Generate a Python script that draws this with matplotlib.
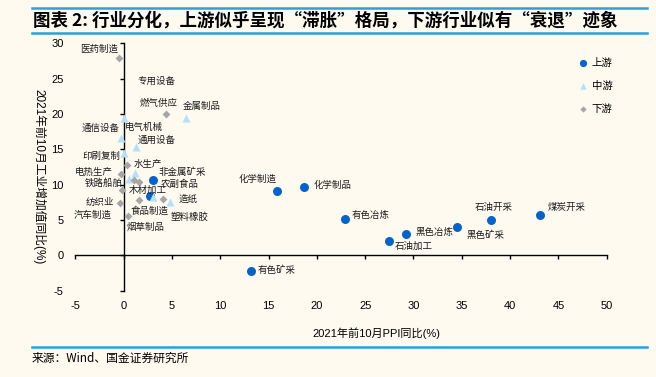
#!/usr/bin/env python3
# -*- coding: utf-8 -*-
# Scatter: PPI vs industrial value added, Jan-Oct 2021, by industry group

import matplotlib
matplotlib.use("Agg")
import matplotlib.pyplot as plt
from matplotlib.lines import Line2D

# Upstream industries (blue circles)
up_names = ['化学制造', '化学制品', '有色冶炼', '石油加工', '黑色冶炼', '黑色矿采',
            '石油开采', '煤炭开采', '有色矿采', '非金属矿采', '农副食品']
up_ppi = [15.9, 18.7, 22.9, 27.5, 29.2, 34.5, 38.0, 43.1, 13.2, 3.1, 2.7]
up_iva = [9.1, 9.7, 5.2, 2.1, 3.0, 4.0, 5.0, 5.7, -2.2, 10.6, 8.4]

# Midstream (light blue triangles)
mid_names = ['电气机械', '通信设备', '通用设备', '专用设备', '金属制品', '铁路船舶',
             '塑料橡胶', '水生产', '']
mid_ppi = [0.0, -0.3, 1.3, 0.1, 6.5, 0.6, 4.8, 1.2, 3.0]
mid_iva = [19.5, 16.6, 15.3, 14.5, 19.4, 10.8, 7.6, 11.6, 8.2]

# Downstream (grey diamonds)
down_names = ['医药制造', '燃气供应', '印刷复制', '电热生产', '', '木材加工', '汽车制造',
              '食品制造', '造纸', '纺织业', '烟草制品']
down_ppi = [-0.5, 4.4, 0.4, -0.3, 1.05, 1.6, -0.2, 1.6, 4.1, -0.35, 0.45]
down_iva = [27.9, 20.0, 12.8, 11.5, 10.7, 10.4, 9.2, 7.9, 8.0, 7.4, 5.5]

xticks = list(range(-5, 55, 5))
yticks = list(range(-5, 35, 5))

# label placement, pixels right / down from the marker
label_offsets = {
    '化学制造': (-20, -12), '化学制品': (28, -1), '有色冶炼': (26, -3),
    '石油加工': (24, 6), '黑色冶炼': (29, -2), '黑色矿采': (29, 8),
    '石油开采': (3, -13), '煤炭开采': (27, -8), '有色矿采': (25, -1),
    '非金属矿采': (29, -8), '农副食品': (30, -12),
    '电气机械': (20, 10), '通信设备': (-20, -10), '通用设备': (21, -7),
    '专用设备': (32, -72), '金属制品': (15, -12), '铁路船舶': (-26, 4),
    '塑料橡胶': (20, 15), '水生产': (13, -9),
    '医药制造': (-20, -9), '燃气供应': (-7, -11), '印刷复制': (-26, -8),
    '电热生产': (-27, -2), '木材加工': (9, 8), '汽车制造': (-29, 25),
    '食品制造': (11, 12), '造纸': (25, 0), '纺织业': (-20, -1),
    '烟草制品': (18, 11),
}

BG = '#FEFAF0'
LINE_BLUE = '#2AA0DE'
CJK = ['Noto Sans CJK SC', 'DejaVu Sans']
NUM = ['Liberation Sans Narrow', 'Liberation Sans', 'Noto Sans CJK SC']

fig = plt.figure(figsize=(6.56, 3.77), dpi=100, facecolor=BG)
ax = fig.add_axes([75.2 / 656, 1 - 290.7 / 377, 531.6 / 656, 247.4 / 377])
ax.set_facecolor(BG)

h_up = ax.scatter(up_ppi, up_iva, s=42, marker='o', color='#0563C8', linewidths=0, zorder=3)
h_mid = ax.scatter(mid_ppi, mid_iva, s=34, marker='^', color='#B9DFF6', linewidths=0, zorder=3)
h_down = ax.scatter(down_ppi, down_iva, s=16, marker='D', color='#A6A6A6', linewidths=0, zorder=3)

for names, xs, ys in [(up_names, up_ppi, up_iva), (mid_names, mid_ppi, mid_iva),
                      (down_names, down_ppi, down_iva)]:
    for n, x, y in zip(names, xs, ys):
        if n not in label_offsets:
            continue
        dx, dy = label_offsets[n]
        ax.annotate(n, (x, y), xytext=(dx, -dy), textcoords='offset pixels',
                    ha='center', va='center', fontsize=6.8, family=CJK, color='#1a1a1a')

ax.set_xlim(-5, 50)
ax.set_ylim(-5, 30)
ax.spines['top'].set_visible(False)
ax.spines['right'].set_visible(False)
ax.spines['left'].set_position(('data', 0))
ax.spines['bottom'].set_position(('data', 0))
for sp in ('left', 'bottom'):
    ax.spines[sp].set_linewidth(1.0)
    ax.spines[sp].set_color('black')
ax.set_xticks(xticks)
ax.set_yticks(yticks)
ax.set_xticklabels([str(v) for v in xticks], family=NUM, fontsize=8)
ax.set_yticklabels([str(v) for v in yticks], family=NUM, fontsize=8)
# labels sit at the low edge of the plot, not on the zero lines
ax.tick_params(axis='x', direction='out', length=3, width=1, pad=30)
ax.tick_params(axis='y', direction='out', length=3, width=1, pad=40)

leg = ax.legend([h_up, h_mid, h_down], ['上游', '中游', '下游'], loc='upper left',
                bbox_to_anchor=(578 / 656, 1 - 58 / 377), bbox_transform=fig.transFigure,
                frameon=False, prop={'family': CJK, 'size': 7.5}, handlelength=1.0,
                handletextpad=0.3, labelspacing=1.25, borderpad=0, borderaxespad=0,
                scatterpoints=1, markerscale=0.8)

fig.text(376 / 656, 1 - 333 / 377, '2021年前10月PPI同比(%)', ha='center', va='center',
         fontsize=8, family=NUM)
fig.text(39 / 656, 1 - 177 / 377, '2021年前10月工业增加值同比(%)', ha='center', va='center',
         rotation=-90, fontsize=8.5, family=NUM)

# header / footer
fig.text(33 / 656, 1 - 21 / 377,
         '图表 2: 行业分化，上游似乎呈现“滞胀”格局，下游行业似有“衰退”迹象',
         ha='left', va='center', fontsize=12.6, fontweight='bold', family=CJK)
for ypx in (8, 33, 347):
    fig.add_artist(Line2D([32 / 656, 647 / 656], [1 - ypx / 377] * 2,
                          color=LINE_BLUE, lw=1.8))
fig.text(32 / 656, 1 - 358 / 377, '来源：Wind、国金证券研究所', ha='left', va='center',
         fontsize=8.5, family=CJK)

fig.savefig('out.png', dpi=100, facecolor=BG)
